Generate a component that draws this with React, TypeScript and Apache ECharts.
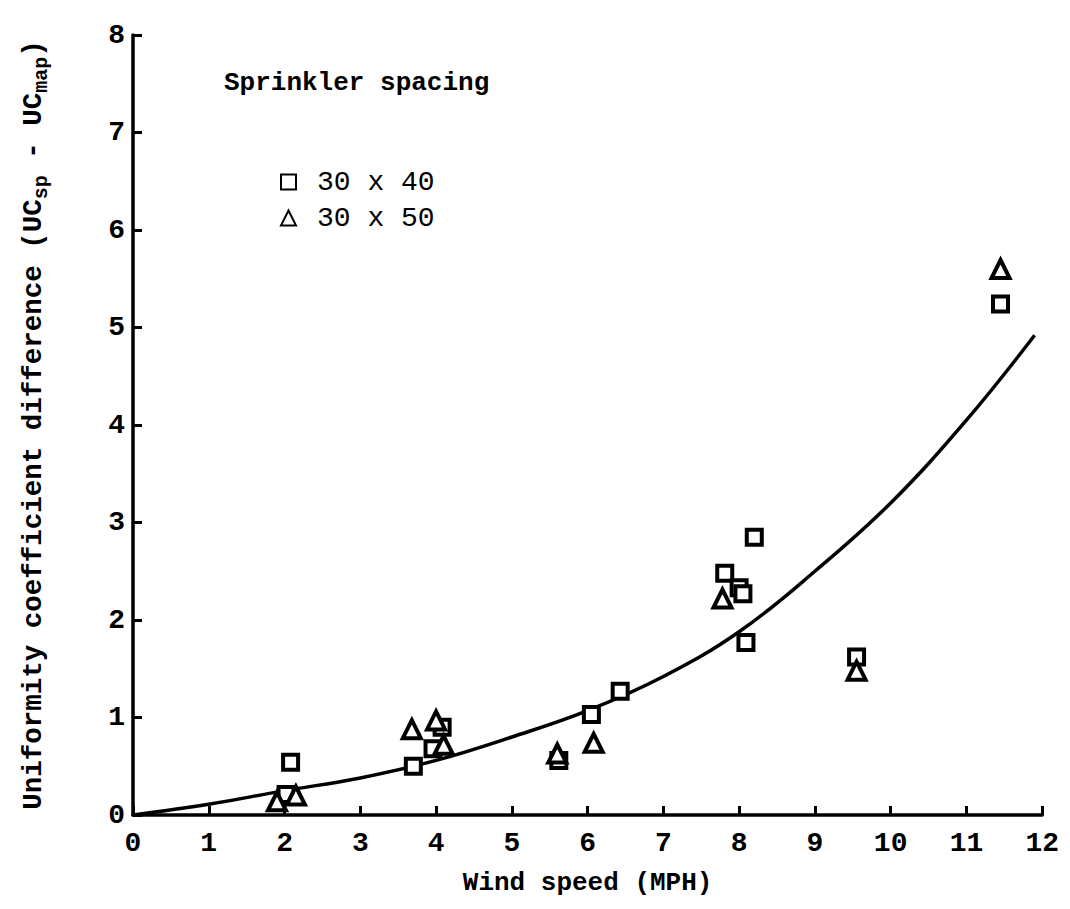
import React, { useEffect, useRef } from "react";
import * as echarts from "echarts";

const xTicks = [0, 1, 2, 3, 4, 5, 6, 7, 8, 9, 10, 11, 12];
const yTicks = [0, 1, 2, 3, 4, 5, 6, 7, 8];

const sq3040X = [2.08, 2.02, 3.7, 3.96, 4.08, 5.62, 6.05, 6.43, 7.81, 8.0, 8.05, 8.2, 8.09, 9.55, 11.45, 12.08];
const sq3040Y = [0.54, 0.21, 0.5, 0.68, 0.9, 0.56, 1.03, 1.27, 2.48, 2.33, 2.27, 2.85, 1.77, 1.62, 5.24, 4.45];

const tr3050X = [1.9, 2.15, 3.68, 4.0, 4.1, 5.6, 6.08, 7.78, 9.55, 11.45, 12.07];
const tr3050Y = [0.14, 0.2, 0.88, 0.97, 0.72, 0.63, 0.74, 2.22, 1.48, 5.6, 2.83];

const curveX = [0, 1, 2, 3, 4, 5, 6, 7, 8, 9, 10, 11, 11.9];
const curveY = [0, 0.11, 0.25, 0.38, 0.56, 0.8, 1.07, 1.42, 1.88, 2.5, 3.2, 4.05, 4.92];

const FONT = "'Liberation Mono', 'DejaVu Sans Mono', monospace";

export default function App() {
  const ref = useRef<HTMLDivElement>(null);
  useEffect(() => {
    if (!ref.current) return;
    const chart = echarts.init(ref.current, null, { renderer: "svg" });
    const pts = (xs: number[], ys: number[]) => xs.map((x, i) => [x, ys[i]]);
    chart.setOption({
      animation: false,
      backgroundColor: "#ffffff",
      grid: { left: 125, right: 15, top: 27, bottom: 83, containLabel: false },
      xAxis: {
        type: "value",
        min: xTicks[0],
        max: xTicks[xTicks.length - 1],
        interval: 1,
        name: "Wind speed (MPH)",
        nameLocation: "middle",
        nameGap: 55,
        nameTextStyle: { fontFamily: FONT, fontWeight: "bold", fontSize: 26, color: "#000" },
        axisLine: { lineStyle: { color: "#000", width: 3.5 } },
        axisTick: { inside: true, length: 9, lineStyle: { color: "#000", width: 3 } },
        axisLabel: { fontFamily: FONT, fontWeight: "bold", fontSize: 28, color: "#000", margin: 14 },
        splitLine: { show: false },
      },
      yAxis: {
        type: "value",
        min: yTicks[0],
        max: yTicks[yTicks.length - 1],
        interval: 1,
        name: "{m|Uniformity coefficient difference (UC}{s|sp}{m| - UC}{s|map}{m|)}",
        nameLocation: "middle",
        nameRotate: 90,
        nameGap: 82,
        nameTextStyle: {
          fontFamily: FONT,
          fontWeight: "bold",
          color: "#000",
          rich: {
            m: { fontFamily: FONT, fontWeight: "bold", fontSize: 27.5, color: "#000", lineHeight: 36, verticalAlign: "middle" },
            s: { fontFamily: FONT, fontWeight: "bold", fontSize: 20, color: "#000", lineHeight: 36, verticalAlign: "bottom" },
          },
        },
        axisLine: { lineStyle: { color: "#000", width: 3.5 } },
        axisTick: { inside: true, length: 9, lineStyle: { color: "#000", width: 3 } },
        axisLabel: { fontFamily: FONT, fontWeight: "bold", fontSize: 28, color: "#000", margin: 8 },
        splitLine: { show: false },
      },
      legend: {
        orient: "vertical",
        left: 267,
        top: 155,
        itemGap: 8,
        itemWidth: 15,
        itemHeight: 15,
        data: ["30 x 40", "30 x 50"],
        textStyle: { fontFamily: FONT, fontSize: 28, color: "#000", padding: [0, 0, 0, 16] },
      },
      graphic: [
        {
          type: "text",
          left: 216,
          top: 62,
          style: { text: "Sprinkler spacing", font: `bold 26px ${FONT}`, fill: "#000" },
        },
      ],
      series: [
        {
          name: "fit",
          type: "line",
          data: pts(curveX, curveY),
          smooth: 0.4,
          showSymbol: false,
          silent: true,
          lineStyle: { color: "#000", width: 3.5 },
          z: 1,
        },
        {
          name: "30 x 40",
          type: "scatter",
          data: pts(sq3040X, sq3040Y),
          symbol: "rect",
          symbolSize: 15,
          itemStyle: { color: "#fff", borderColor: "#000", borderWidth: 4, opacity: 1 },
          z: 3,
        },
        {
          name: "30 x 50",
          type: "scatter",
          data: pts(tr3050X, tr3050Y),
          symbol: "triangle",
          symbolSize: 18,
          itemStyle: { color: "#fff", borderColor: "#000", borderWidth: 4, opacity: 1 },
          z: 3,
        },
      ],
    });
    return () => chart.dispose();
  }, []);
  return <div ref={ref} style={{ width: 1054, height: 893 }} />;
}
